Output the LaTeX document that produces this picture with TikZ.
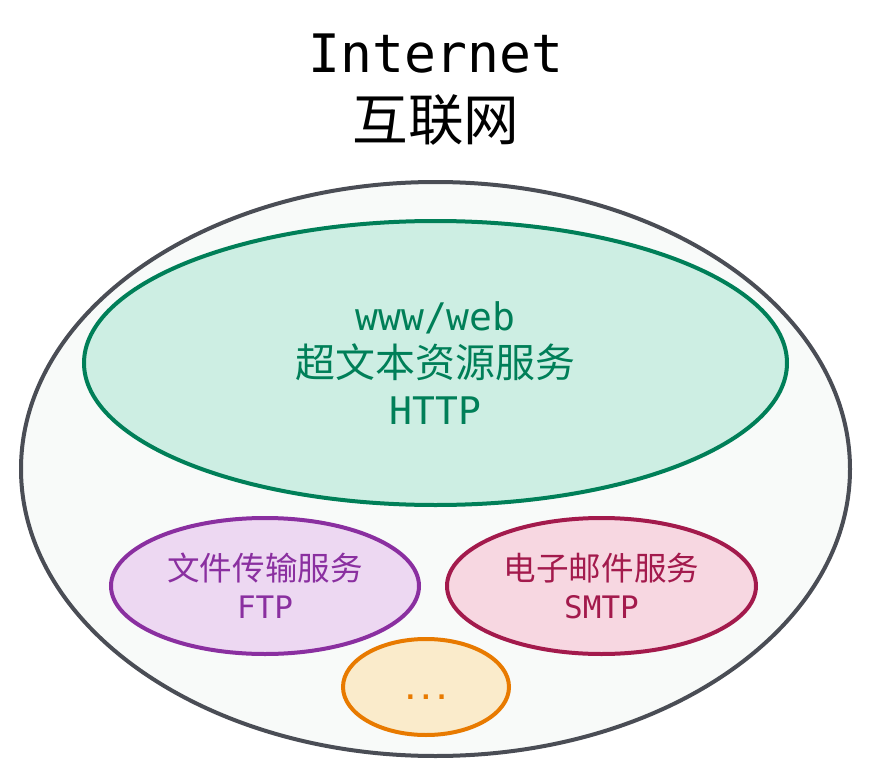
\documentclass[tikz,border=0pt]{standalone}
\usepackage{fontspec}
\setmonofont{DejaVu Sans Mono}
\newfontfamily\cjk[Scale=1.05]{Noto Sans CJK SC}
\usetikzlibrary{shapes.geometric}

\definecolor{netline}{HTML}{4A4D55}
\definecolor{netfill}{HTML}{F8FAF9}
\definecolor{webline}{HTML}{007F58}
\definecolor{webfill}{HTML}{CDEEE3}
\definecolor{ftpline}{HTML}{8A2FA0}
\definecolor{ftpfill}{HTML}{EDD8F2}
\definecolor{mailline}{HTML}{A31A4C}
\definecolor{mailfill}{HTML}{F7D7E1}
\definecolor{moreline}{HTML}{E87A00}
\definecolor{morefill}{HTML}{FAEBCB}

\begin{document}
\begin{tikzpicture}[
  x=1pt, y=-1pt,
  bubble/.style={ellipse, line width=4pt, inner sep=0pt, align=center},
  net/.style={bubble, draw=netline, fill=netfill, minimum width=829pt, minimum height=574pt},
  web/.style={bubble, draw=webline, fill=webfill, text=webline, minimum width=703pt, minimum height=284pt, font=\fontsize{38}{47}\selectfont},
  ftp/.style={bubble, draw=ftpline, fill=ftpfill, text=ftpline, minimum width=308pt, minimum height=136pt, font=\fontsize{31}{38}\selectfont},
  mail/.style={bubble, draw=mailline, fill=mailfill, text=mailline, minimum width=309pt, minimum height=136pt, font=\fontsize{31}{38}\selectfont},
  more/.style={bubble, draw=moreline, fill=morefill, text=moreline, minimum width=166pt, minimum height=96pt, text height=24pt, text depth=0pt, font=\fontsize{26}{32}\selectfont\bfseries},
  head/.style={align=center, font=\fontsize{53}{68}\selectfont}]

\useasboundingbox (0,0) rectangle (871,779);

% ---------- title
\node[head] (title) at (436,90) {\ttfamily Internet\\\cjk 互联网};

% ---------- outer ellipse
\node[net] (net) at (435.5,469) {};

% ---------- services
\node[web]  (web)  at (435.5,363) {\ttfamily www/web\\\cjk 超文本资源服务\\\ttfamily HTTP};
\node[ftp]  (ftp)  at (265,586)   {\cjk 文件传输服务\\\ttfamily FTP};
\node[mail] (mail) at (601.5,586) {\cjk 电子邮件服务\\\ttfamily SMTP};
\node[more] (more) at (426,687)   {\ttfamily ...};
\end{tikzpicture}
\end{document}
